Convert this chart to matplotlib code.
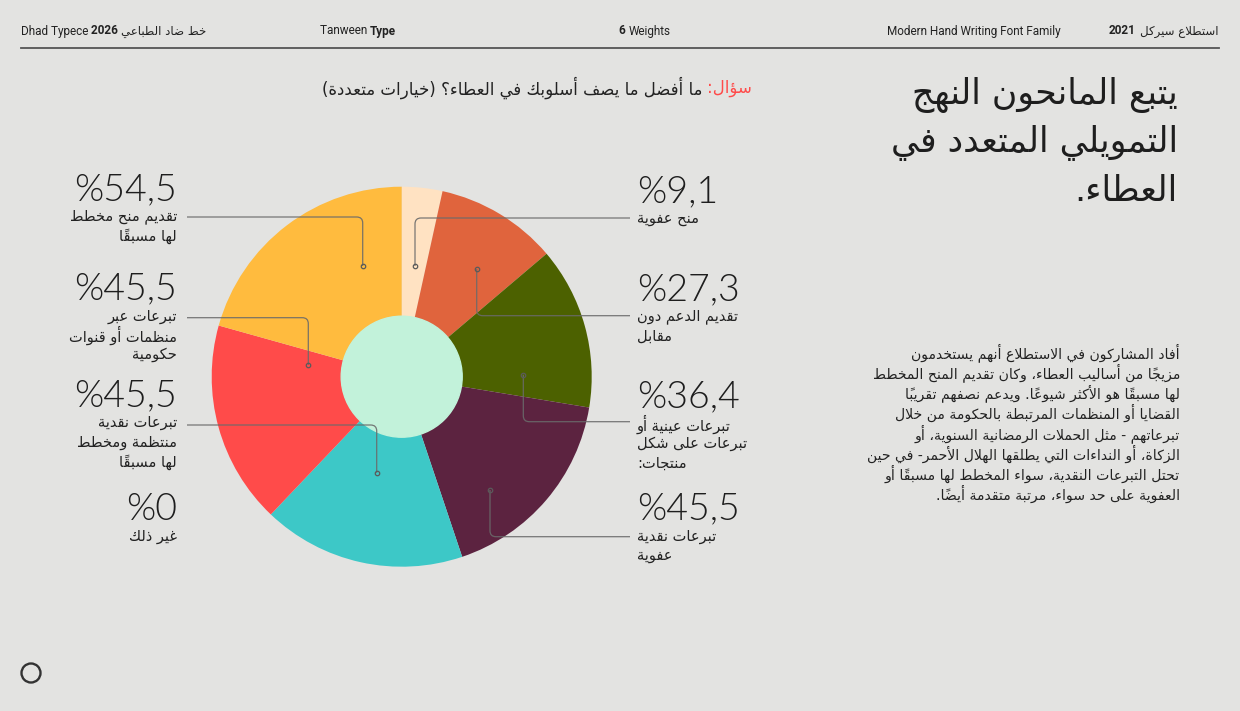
import re
import unicodedata

import matplotlib
matplotlib.use("Agg")
import matplotlib.pyplot as plt
from matplotlib.patches import Circle, PathPatch
from matplotlib.path import Path

W, H = 1240, 711

# ---- data (clockwise from 12 o'clock, last item is not drawn) ----
categories = [
    "منح عفوية",
    "تقديم الدعم دون مقابل",
    "تبرعات عينية أو تبرعات على شكل منتجات:",
    "تبرعات نقدية عفوية",
    "تبرعات نقدية منتظمة ومخطط لها مسبقاً",
    "تبرعات عبر منظمات أو قنوات حكومية",
    "تقديم منح مخطط لها مسبقاً",
    "غير ذلك",
]
values = [9.1, 27.3, 36.4, 45.5, 45.5, 45.5, 54.5, 0]
label_lines = [
    ["منح عفوية"],
    ["تقديم الدعم دون", "مقابل"],
    ["تبرعات عينية أو", "تبرعات على شكل", "منتجات:"],
    ["تبرعات نقدية", "عفوية"],
    ["تبرعات نقدية", "منتظمة ومخطط", "لها مسبقاً"],
    ["تبرعات عبر", "منظمات أو قنوات", "حكومية"],
    ["تقديم منح مخطط", "لها مسبقاً"],
    ["غير ذلك"],
]
slice_colors = ["#ffe2c2", "#e0643d", "#4c6100", "#5c2340", "#3dc8c7", "#ff4b4a", "#ffbb3e", "none"]

title_lines = ["يتبع المانحون النهج", "التمويلي المتعدد في", "العطاء."]
question_tag = "سؤال:"
question = "ما أفضل ما يصف أسلوبك في العطاء؟ (خيارات متعددة)"
body_lines = [
    "أفاد المشاركون في الاستطلاع أنهم يستخدمون",
    "مزيجاً من أساليب العطاء، وكان تقديم المنح المخطط",
    "لها مسبقاً هو الأكثر شيوعاً. ويدعم نصفهم تقريباً",
    "القضايا أو المنظمات المرتبطة بالحكومة من خلال",
    "تبرعاتهم - مثل الحملات الرمضانية السنوية، أو",
    "الزكاة، أو النداءات التي يطلقها الهلال الأحمر- في حين",
    "تحتل التبرعات النقدية، سواء المخطط لها مسبقاً أو",
    "العفوية على حد سواء، مرتبة متقدمة أيضاً.",
]

# ---- minimal arabic shaping (matplotlib draws glyphs left to right) ----
_AR = [("ء", 0xFE80, 1), ("آ", 0xFE81, 2), ("أ", 0xFE83, 2), ("ؤ", 0xFE85, 2),
       ("إ", 0xFE87, 2), ("ئ", 0xFE89, 4), ("ا", 0xFE8D, 2), ("ب", 0xFE8F, 4),
       ("ة", 0xFE93, 2), ("ت", 0xFE95, 4), ("ث", 0xFE99, 4), ("ج", 0xFE9D, 4),
       ("ح", 0xFEA1, 4), ("خ", 0xFEA5, 4), ("د", 0xFEA9, 2), ("ذ", 0xFEAB, 2),
       ("ر", 0xFEAD, 2), ("ز", 0xFEAF, 2), ("س", 0xFEB1, 4), ("ش", 0xFEB5, 4),
       ("ص", 0xFEB9, 4), ("ض", 0xFEBD, 4), ("ط", 0xFEC1, 4), ("ظ", 0xFEC5, 4),
       ("ع", 0xFEC9, 4), ("غ", 0xFECD, 4), ("ف", 0xFED1, 4), ("ق", 0xFED5, 4),
       ("ك", 0xFED9, 4), ("ل", 0xFEDD, 4), ("م", 0xFEE1, 4), ("ن", 0xFEE5, 4),
       ("ه", 0xFEE9, 4), ("و", 0xFEED, 2), ("ى", 0xFEEF, 2), ("ي", 0xFEF1, 4)]
FORMS = {ch: (base, n) for ch, base, n in _AR}
LAM_ALEF = {"ا": 0xFEFB, "أ": 0xFEF7, "إ": 0xFEF9, "آ": 0xFEF5}


def joins_right(tok):
    b = tok[0]
    return b.startswith("LA") or (b in FORMS and FORMS[b][1] >= 2)


def joins_left(tok):
    b = tok[0]
    return b in FORMS and FORMS[b][1] == 4


def ar(s):
    toks = []
    i = 0
    while i < len(s):
        c = s[i]
        if unicodedata.combining(c) and toks:
            toks[-1][1] += c
        elif c == "ل" and i + 1 < len(s) and s[i + 1] in LAM_ALEF:
            toks.append(["LA" + s[i + 1], ""])
            i += 1
        else:
            toks.append([c, ""])
        i += 1
    out = []
    for k, (b, marks) in enumerate(toks):
        pj = k > 0 and joins_left(toks[k - 1]) and joins_right(toks[k])
        nj = k + 1 < len(toks) and joins_left(toks[k]) and joins_right(toks[k + 1])
        if b.startswith("LA"):
            g = chr(LAM_ALEF[b[2]] + (1 if pj else 0))
        elif b in FORMS:
            base, n = FORMS[b]
            if n == 4 and pj and nj:
                g = chr(base + 3)
            elif n == 4 and nj:
                g = chr(base + 2)
            elif pj:
                g = chr(base + 1)
            else:
                g = chr(base)
        else:
            g = b
        out.append(g + marks)
    vis = "".join(reversed(out))
    vis = re.sub(r"[0-9A-Za-z]+", lambda m: m.group(0)[::-1], vis)
    return vis.translate(str.maketrans("()", ")("))


def pct(v):
    return "%" + ("%g" % v).replace(".", ",")


AR_FONT = ["DejaVu Sans"]
NUM_FONT = ["Lato", "DejaVu Sans"]
HEAD_FONT = ["Roboto", "DejaVu Sans"]
INK = "#222222"

fig = plt.figure(figsize=(W / 100, H / 100), dpi=100)
fig.patch.set_facecolor("#e3e3e1")

# pie
CX, CY, R, HOLE = 401.7, 376.7, 190.0, 60.5
pad = 1.02
pax = fig.add_axes([(CX - R * pad) / W, 1 - (CY + R * pad) / H, 2 * R * pad / W, 2 * R * pad / H])
shown = [(v, c) for v, c in zip(values, slice_colors) if v > 0]
pax.pie([v for v, _ in shown], colors=[c for _, c in shown], startangle=90,
        counterclock=False, radius=1, wedgeprops=dict(linewidth=0))
pax.add_patch(Circle((0, 0), HOLE / R, color="#c2f2da", zorder=5))
pax.set_xlim(-pad, pad)
pax.set_ylim(-pad, pad)
pax.set_aspect("equal")
pax.axis("off")

# overlay in pixel coordinates
ov = fig.add_axes([0, 0, 1, 1])
ov.set_xlim(0, W)
ov.set_ylim(H, 0)
ov.axis("off")
renderer = fig.canvas.get_renderer()


def put(x, y, s, size, ha="left", family=AR_FONT, weight="normal", color=INK):
    return ov.text(x, y, s, fontsize=size, ha=ha, va="center", family=family,
                   fontweight=weight, color=color)


def width(t):
    return t.get_window_extent(renderer).width


# header
ov.plot([21, 1219], [48, 48], color="#555555", lw=1.3)
t = put(21, 31, "Dhad Typece ", 8.5, family=HEAD_FONT)
x = 21 + width(t)
t = put(x, 31, "2026 ", 8.5, family=HEAD_FONT, weight="bold")
x += width(t)
put(x, 31, ar("خط ضاد الطباعي"), 8.5)
t = put(320, 31, "Tanween ", 8.5, family=HEAD_FONT)
put(320 + width(t), 31, "Type", 8.5, family=HEAD_FONT, weight="bold")
t = put(619, 31, "6 ", 8.5, family=HEAD_FONT, weight="bold")
put(619 + width(t), 31, "Weights", 8.5, family=HEAD_FONT)
put(887, 31, "Modern Hand Writing Font Family", 8.5, family=HEAD_FONT)
t = put(1219, 31, ar("استطلاع سيركل"), 8.5, ha="right")
put(1219 - width(t) - 5, 31, "2021", 8.5, ha="right", family=HEAD_FONT, weight="bold")

# question
t = put(752, 88, ar(question_tag), 12, ha="right", color="#ff4b4a")
put(752 - width(t) - 5, 88, ar(question), 12, ha="right")

# title + body
for k, line in enumerate(title_lines):
    put(1178, 95 + 48 * k, ar(line), 25, ha="right", color="#1e1e1e")
for k, line in enumerate(body_lines):
    put(1180, 353 + 20.1 * k, ar(line), 10.1, ha="right")

# labels: (side, y of the big number)
label_pos = [("R", 192), ("R", 290), ("R", 397), ("R", 509),
             ("L", 396), ("L", 289), ("L", 190), ("L", 510)]
for v, lines, (side, y) in zip(values, label_lines, label_pos):
    xa, ha = (637, "left") if side == "R" else (177, "right")
    put(xa, y, pct(v), 27, ha=ha, family=NUM_FONT, weight=300, color="#1e1e1e")
    for k, line in enumerate(lines):
        put(xa, y + 27 + 19.5 * k, ar(line), 10.5, ha=ha)

# leader lines: (dot x, dot y, line y, line end x)
leaders = [(415, 266, 218, 630), (476.7, 269, 315.7, 630), (523.3, 374.7, 421.7, 630),
           (490, 490, 536.7, 630), (376.7, 472.7, 425, 187), (308.3, 365, 317.7, 187),
           (362.7, 266, 217, 187)]
rc = 6
for dx, dy, ly, ex in leaders:
    sx = 1 if ex > dx else -1
    sy = 1 if dy > ly else -1
    verts = [(ex, ly), (dx + sx * rc, ly), (dx, ly), (dx, ly + sy * rc), (dx, dy)]
    codes = [Path.MOVETO, Path.LINETO, Path.CURVE3, Path.CURVE3, Path.LINETO]
    ov.add_patch(PathPatch(Path(verts, codes), fill=False, ec="#6a6a6a", lw=0.9, alpha=0.9))
    ov.plot(dx, dy, "o", ms=3.2, mfc="none", mec="#5a5a5a", mew=0.9)

ov.add_patch(Circle((31, 673), 9.5, fill=False, ec="#333333", lw=1.7))

fig.savefig("out.png", dpi=100, facecolor=fig.get_facecolor())
